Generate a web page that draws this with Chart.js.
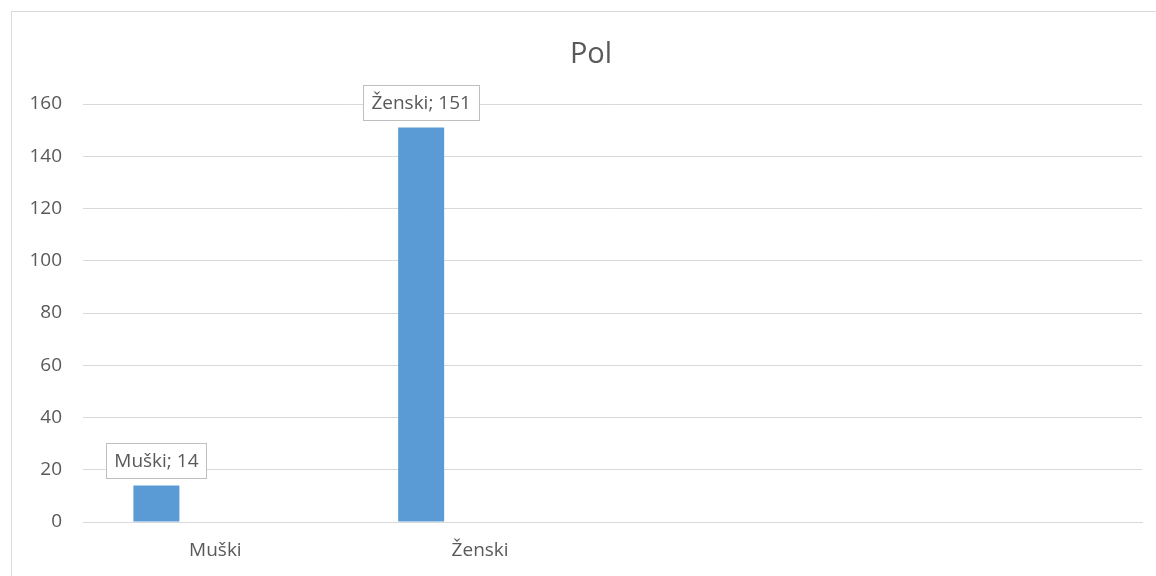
<!DOCTYPE html>
<html><head><meta charset="utf-8">
<script src="https://cdn.jsdelivr.net/npm/chart.js@4"></script>
<style>html,body{margin:0;padding:0;background:#fff;overflow:hidden}</style>
</head><body>
<canvas id="c" width="1156" height="576" style="display:block;width:1156px;height:576px"></canvas>
<script>
const chartTitle = 'Pol';
const categories = ['Muški', 'Ženski', '', ''];
const seriesValues = [14, 151, null, null];
const emptySeries = [null, null, null, null];
const yMin = 0, yMax = 160, yStep = 20;

const FONT = '"Open Sans", "Liberation Sans", sans-serif';
const TEXT = '#595959';

const framePlugin = {
  id: 'frame',
  beforeDraw(chart) {
    const ctx = chart.ctx;
    ctx.save();
    ctx.fillStyle = '#ffffff';
    ctx.fillRect(0, 0, chart.width, chart.height);
    ctx.strokeStyle = '#d9d9d9';
    ctx.lineWidth = 1;
    ctx.strokeRect(11.5, 11.5, chart.width + 20, chart.height + 20);
    ctx.fillStyle = TEXT;
    ctx.font = '29px ' + FONT;
    ctx.textAlign = 'center';
    ctx.textBaseline = 'alphabetic';
    ctx.fillText(chartTitle, 591, 63);
    ctx.restore();
  }
};

const labelPlugin = {
  id: 'boxLabels',
  afterDatasetsDraw(chart) {
    const ctx = chart.ctx;
    const meta = chart.getDatasetMeta(0);
    ctx.save();
    ctx.font = '19px ' + FONT;
    meta.data.forEach((el, i) => {
      const v = seriesValues[i];
      if (v === null || v === undefined) return;
      const txt = categories[i] + '; ' + v;
      const w = ctx.measureText(txt).width + 16;
      const h = 35;
      const x = el.x - w / 2;
      const bottom = el.y - 7.5;
      const y = bottom - h;
      ctx.fillStyle = '#ffffff';
      ctx.fillRect(Math.round(x) + 0.5, Math.round(y) + 0.5, Math.round(w), h);
      ctx.strokeStyle = '#bfbfbf';
      ctx.lineWidth = 1;
      ctx.strokeRect(Math.round(x) + 0.5, Math.round(y) + 0.5, Math.round(w), h);
      ctx.fillStyle = TEXT;
      ctx.textAlign = 'center';
      ctx.textBaseline = 'middle';
      ctx.fillText(txt, el.x, y + h / 2 + 1);
    });
    ctx.restore();
  }
};

new Chart(document.getElementById('c'), {
  type: 'bar',
  data: {
    labels: categories,
    datasets: [
      { label: chartTitle, data: seriesValues, backgroundColor: '#5b9bd5', borderWidth: 0 },
      { label: '', data: emptySeries, backgroundColor: '#ed7d31', borderWidth: 0 }
    ]
  },
  options: {
    responsive: false,
    animation: false,
    devicePixelRatio: 1,
    categoryPercentage: 0.891,
    barPercentage: 0.39,
    layout: { padding: { top: 104, left: 11, right: 14, bottom: 0 } },
    plugins: {
      legend: { display: false },
      title: { display: false },
      tooltip: { enabled: false }
    },
    scales: {
      x: {
        grid: { display: false, drawTicks: false },
        border: { display: true, color: '#d9d9d9', width: 1 },
        ticks: { color: TEXT, font: { family: FONT, size: 19 }, padding: 17, maxRotation: 0, autoSkip: false },
        afterFit(s) { s.height = 54; }
      },
      y: {
        min: yMin, max: yMax,
        grid: { color: '#d9d9d9', lineWidth: 1, drawTicks: false },
        border: { display: false },
        ticks: { stepSize: yStep, color: TEXT, font: { family: FONT, size: 19 }, padding: 21 },
        afterFit(s) { s.width = 72; }
      }
    }
  },
  plugins: [framePlugin, labelPlugin]
});
</script>
</body></html>
